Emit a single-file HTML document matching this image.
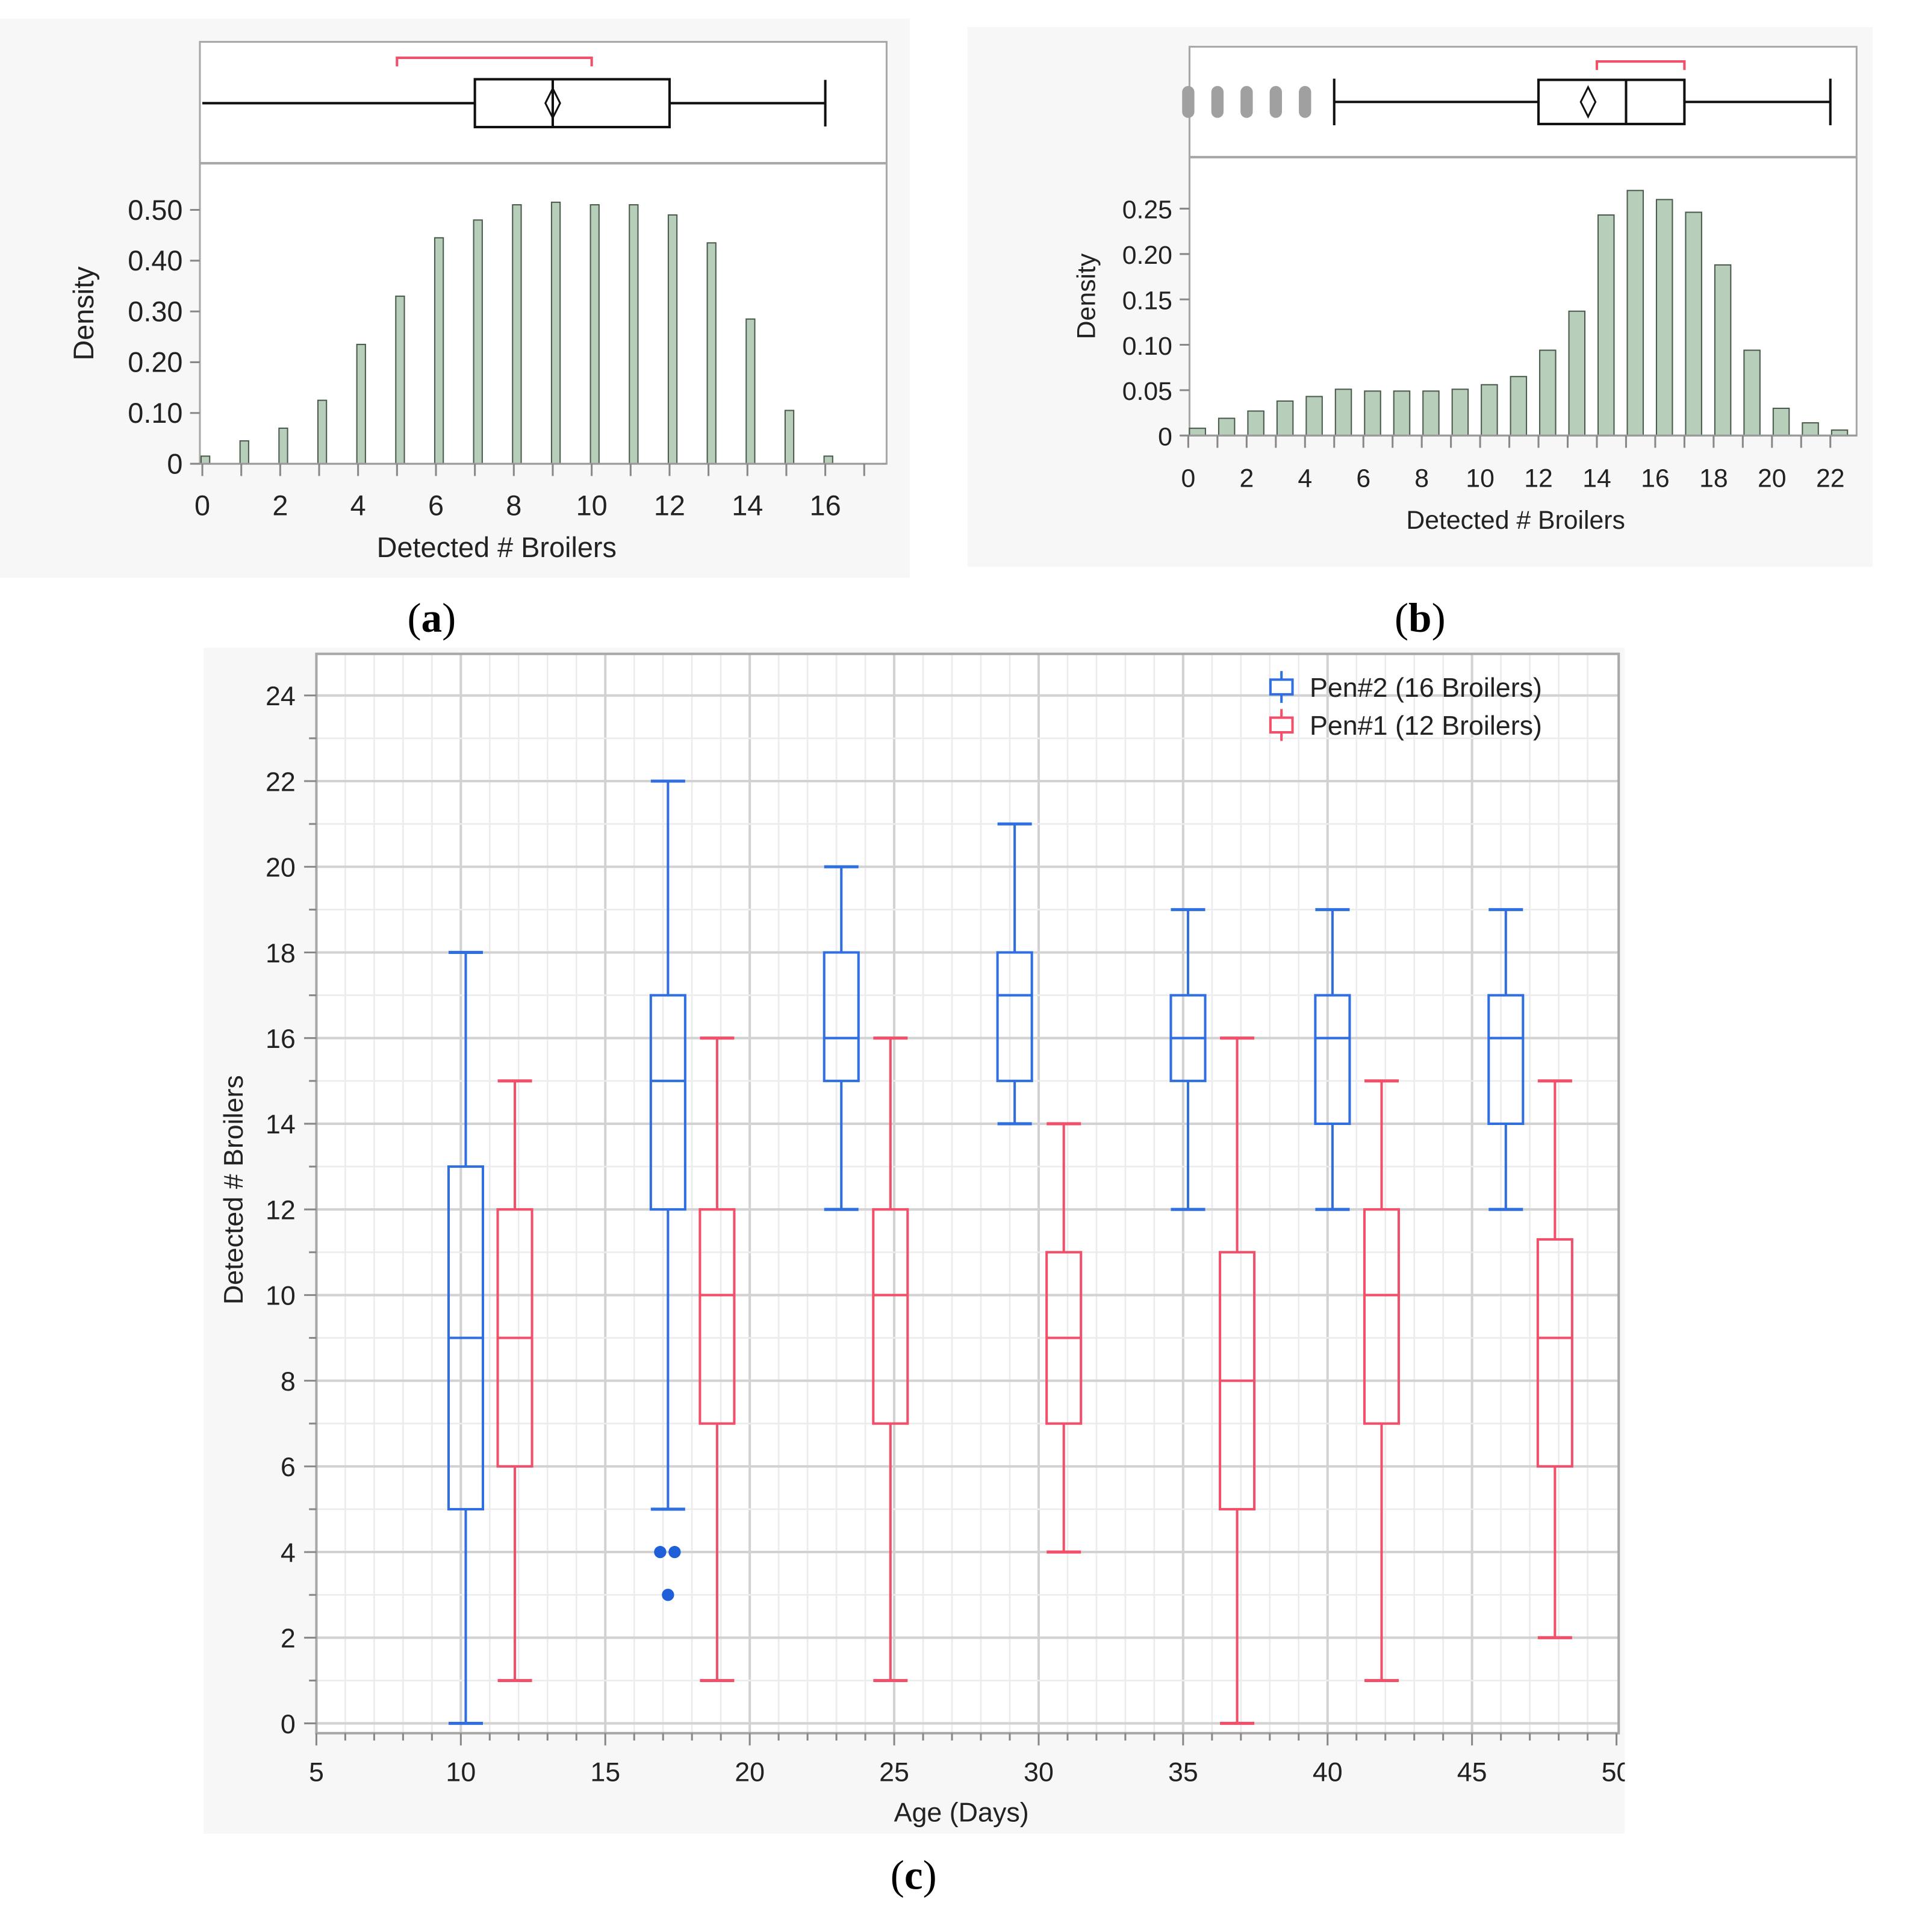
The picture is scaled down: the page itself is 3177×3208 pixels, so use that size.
<!DOCTYPE html>
<html><head><meta charset="utf-8"><style>
html,body{margin:0;padding:0;background:#fff;}
svg{display:block;font-family:"Liberation Sans",sans-serif;}
</style></head><body>
<svg id="fig" width="3177" height="3208" viewBox="0 0 1560 1575" xmlns="http://www.w3.org/2000/svg">
<rect x="0" y="0" width="1560" height="1575" fill="#fff"/>
<g id="pa"></g>
<g id="pb"></g>
<g id="pc"></g>
<text x="352" y="515" font-family="Liberation Serif,serif" font-size="34" text-anchor="middle">(<tspan font-weight="bold">a</tspan>)</text>
<text x="1158" y="515" font-family="Liberation Serif,serif" font-size="34" text-anchor="middle">(<tspan font-weight="bold">b</tspan>)</text>
<text x="745" y="1540" font-family="Liberation Serif,serif" font-size="34" text-anchor="middle">(<tspan font-weight="bold">c</tspan>)</text>
</svg>
<script>
// ---- Panel A data ----
const aBins = [0,1,2,3,4,5,6,7,8,9,10,11,12,13,14,15,16];
const aDensity = [0.015,0.045,0.07,0.125,0.235,0.33,0.445,0.48,0.51,0.515,0.51,0.51,0.49,0.435,0.285,0.105,0.015];
const aYTicks = [0,0.10,0.20,0.30,0.40,0.50];
const aYTickLabels = ["0","0.10","0.20","0.30","0.40","0.50"];
const aXTicks = [0,2,4,6,8,10,12,14,16];
const aBox = [0,7,9,12,16]; // min q1 median q3 max
const aMean = 9;
const aShortest = [5,10];
// ---- Panel B data ----
const bBins = [0,1,2,3,4,5,6,7,8,9,10,11,12,13,14,15,16,17,18,19,20,21,22];
const bDensity = [0.008,0.019,0.027,0.038,0.043,0.051,0.049,0.049,0.049,0.051,0.056,0.065,0.094,0.137,0.243,0.27,0.26,0.246,0.188,0.094,0.03,0.014,0.006];
const bYTicks = [0,0.05,0.10,0.15,0.20,0.25];
const bYTickLabels = ["0","0.05","0.10","0.15","0.20","0.25"];
const bXTicks = [0,2,4,6,8,10,12,14,16,18,20,22];
const bBox = [5,12,15,17,22];
const bMean = 13.7;
const bOutliers = [0,1,2,3,4];
const bShortest = [14,17];
// ---- Panel C data ----
const cBlueAge = [10.17,17.17,23.17,29.17,35.17,40.17,46.17];
const cBlueMin = [0,5,12,14,12,12,12];
const cBlueQ1 = [5,12,15,15,15,14,14];
const cBlueMed = [9,15,16,17,16,16,16];
const cBlueQ3 = [13,17,18,18,17,17,17];
const cBlueMax = [18,22,20,21,19,19,19];
const cRedAge = [11.87,18.87,24.87,30.87,36.87,41.87,47.87];
const cRedMin = [1,1,1,4,0,1,2];
const cRedQ1 = [6,7,7,7,5,7,6];
const cRedMed = [9,10,10,9,8,10,9];
const cRedQ3 = [12,12,12,11,11,12,11.3];
const cRedMax = [15,16,16,14,16,15,15];
const cOutAge = [16.9,17.4,17.17];
const cOutVal = [4,4,3];
const cXTicks = [5,10,15,20,25,30,35,40,45,50];
const cYTicks = [0,2,4,6,8,10,12,14,16,18,20,22,24];

const NS="http://www.w3.org/2000/svg";
function mk(parent,tag,attrs,name,text){
  const e=document.createElementNS(NS,tag);
  for(const k in attrs) e.setAttribute(k,attrs[k]);
  
  
  if(text!==undefined) e.textContent=text;
  parent.appendChild(e); return e;
}
const fig=document.getElementById('fig');

function histPanel(g,o){
  mk(g,'rect',{x:o.bg[0],y:o.bg[1],width:o.bg[2],height:o.bg[3],fill:'#f7f7f7'},'panel-background');
  mk(g,'rect',{x:o.L,y:o.T,width:o.R-o.L,height:o.B-o.T,fill:'#fff',stroke:'#a8a8a8','stroke-width':1.5},'plot-frame');
  mk(g,'line',{x1:o.L,x2:o.R,y1:o.mid,y2:o.mid,stroke:'#a8a8a8','stroke-width':2},'panel-divider');
  const X=v=>o.L+o.x0+v*o.ux, Y=v=>o.B-v*o.uy;
  o.bins.forEach((b,i)=>{
    mk(g,'rect',{x:X(b)+o.barOff,y:Y(o.dens[i]),width:o.barW,height:o.B-Y(o.dens[i]),fill:'#b7cfba',stroke:'#4a5a4c','stroke-width':1},'histogram-bar');
  });
  o.yt.forEach((v,i)=>{
    mk(g,'line',{x1:o.L-8,x2:o.L,y1:Y(v),y2:Y(v),stroke:'#888','stroke-width':1.5},'y-tick');
    mk(g,'text',{x:o.L-14,y:Y(v)+8,'font-size':o.fs,'text-anchor':'end',fill:'#222'},'y-tick-label',o.ytl[i]);
  });
  mk(g,'line',{x1:o.L,x2:o.R,y1:o.B,y2:o.B,stroke:'#999','stroke-width':1.5},'x-axis-line');
  for(let v=0;v<=o.xmax;v++){
    mk(g,'line',{x1:X(v),x2:X(v),y1:o.B,y2:o.B+10,stroke:'#888','stroke-width':1.5},'x-tick');
  }
  o.xt.forEach(v=>{
    mk(g,'text',{x:X(v),y:o.B+42,'font-size':o.fs,'text-anchor':'middle',fill:'#222'},'x-tick-label',String(v));
  });
  mk(g,'text',{x:(o.L+o.R)/2+o.xtOff,y:o.B+76,'font-size':o.fs,'text-anchor':'middle',fill:'#222'},'x-axis-title','Detected # Broilers');
  const yc=(o.mid+o.B)/2;
  mk(g,'text',{x:o.ytX,y:yc,'font-size':o.fs,'text-anchor':'middle',fill:'#222',transform:`rotate(-90 ${o.ytX} ${yc})`},'y-axis-title','Density');
  const cy=o.boxY, h=o.boxH, bx=o.box;
  mk(g,'line',{x1:X(bx[0]),x2:X(bx[1]),y1:cy,y2:cy,stroke:'#111','stroke-width':2},'whisker-low');
  mk(g,'line',{x1:X(bx[3]),x2:X(bx[4]),y1:cy,y2:cy,stroke:'#111','stroke-width':2},'whisker-high');
  if(o.capLow) mk(g,'line',{x1:X(bx[0]),x2:X(bx[0]),y1:cy-19,y2:cy+19,stroke:'#111','stroke-width':2},'whisker-cap');
  mk(g,'line',{x1:X(bx[4]),x2:X(bx[4]),y1:cy-19,y2:cy+19,stroke:'#111','stroke-width':2},'whisker-cap');
  mk(g,'rect',{x:X(bx[1]),y:cy-h/2,width:X(bx[3])-X(bx[1]),height:h,fill:'#fff',stroke:'#111','stroke-width':2},'box');
  mk(g,'line',{x1:X(bx[2]),x2:X(bx[2]),y1:cy-h/2,y2:cy+h/2,stroke:'#111','stroke-width':2},'median-line');
  const mx=X(o.mean);
  mk(g,'path',{d:`M${mx} ${cy-12} L${mx+6} ${cy} L${mx} ${cy+12} L${mx-6} ${cy} Z`,fill:'none',stroke:'#111','stroke-width':1.5},'mean-diamond');
  const s0=X(o.sh[0]),s1=X(o.sh[1]);
  mk(g,'path',{d:`M${s0} ${o.shY+7} L${s0} ${o.shY} L${s1} ${o.shY} L${s1} ${o.shY+7}`,fill:'none',stroke:'#f0506a','stroke-width':2},'shortest-half-bracket');
  if(o.outl) o.outl.forEach(v=>{
    mk(g,'rect',{x:X(v)-5,y:cy-13,width:10,height:26,rx:5,fill:'#a0a0a0'},'outlier-point');
  });
}

histPanel(document.getElementById('pa'),{
  bg:[0,15,742,456],L:163,R:723,T:34,mid:133,B:378,x0:2,ux:31.75,uy:414,
  bins:aBins,dens:aDensity,barW:7,barOff:-1,yt:aYTicks,ytl:aYTickLabels,xt:aXTicks,xmax:17,
  fs:23,xtOff:-38,ytX:76,box:aBox,boxY:84,boxH:39,mean:aMean,sh:aShortest,shY:47,capLow:false
});
histPanel(document.getElementById('pb'),{
  bg:[789,22,738,440],L:970,R:1514,T:38,mid:128,B:355,x0:-1,ux:23.8,uy:740,
  bins:bBins,dens:bDensity,barW:13,barOff:1,yt:bYTicks,ytl:bYTickLabels,xt:bXTicks,xmax:22,
  fs:21,xtOff:-6,ytX:893,box:bBox,boxY:83,boxH:36,mean:bMean,sh:bShortest,shY:50,capLow:true,outl:bOutliers
});

(function(){
  const g=document.getElementById('pc');
  const L=258,R=1320,T=533,B=1413;
  const X=v=>L+(v-5)*23.56, Y=v=>1405-v*34.92;
  mk(g,'rect',{x:166,y:528,width:1159,height:967,fill:'#f7f7f7'},'panel-background');
  mk(g,'rect',{x:L,y:T,width:R-L,height:B-T,fill:'#fff'},'plot-area');
  for(let d=6;d<50;d++){
    mk(g,'line',{x1:X(d),x2:X(d),y1:T,y2:B,stroke:d%5===0?'#d2d2d2':'#ececec','stroke-width':d%5===0?2:1.3},'grid-line-x');
  }
  for(let v=0;v<=25;v++){
    if(Y(v)<T) continue;
    mk(g,'line',{x1:L,x2:R,y1:Y(v),y2:Y(v),stroke:v%2===0?'#d2d2d2':'#ececec','stroke-width':v%2===0?2:1.3},'grid-line-y');
  }
  mk(g,'rect',{x:L,y:T,width:R-L,height:B-T,fill:'none',stroke:'#a8a8a8','stroke-width':2},'plot-frame');
  for(let v=0;v<=25;v++){
    if(Y(v)<T) continue;
    mk(g,'line',{x1:v%2===0?L-10:L-6,x2:L,y1:Y(v),y2:Y(v),stroke:'#888','stroke-width':1.5},'y-tick');
  }
  cYTicks.forEach(v=>{
    mk(g,'text',{x:241,y:Y(v)+8,'font-size':22,'text-anchor':'end',fill:'#222'},'y-tick-label',String(v));
  });
  for(let d=5;d<=50;d++){
    mk(g,'line',{x1:X(d),x2:X(d),y1:B,y2:B+(d%5===0?10:6),stroke:'#888','stroke-width':1.5},'x-tick');
  }
  cXTicks.forEach(v=>{
    mk(g,'text',{x:X(v),y:1452,'font-size':22,'text-anchor':'middle',fill:'#222'},'x-tick-label',String(v));
  });
  mk(g,'rect',{x:1325,y:1425,width:20,height:40,fill:'#fff'},'label-clip');
  mk(g,'text',{x:784,y:1485,'font-size':22,'text-anchor':'middle',fill:'#222'},'x-axis-title','Age (Days)');
  mk(g,'text',{x:198,y:970,'font-size':22,'text-anchor':'middle',fill:'#222',transform:'rotate(-90 198 970)'},'y-axis-title','Detected # Broilers');
  function boxes(age,mn,q1,md,q3,mx,col,nm){
    const hw=14;
    age.forEach((a,i)=>{
      const cx=X(a);
      mk(g,'line',{x1:cx,x2:cx,y1:Y(mx[i]),y2:Y(q3[i]),stroke:col,'stroke-width':2},nm+'-whisker-high');
      mk(g,'line',{x1:cx,x2:cx,y1:Y(q1[i]),y2:Y(mn[i]),stroke:col,'stroke-width':2},nm+'-whisker-low');
      mk(g,'line',{x1:cx-hw,x2:cx+hw,y1:Y(mx[i]),y2:Y(mx[i]),stroke:col,'stroke-width':2.5},nm+'-cap-high');
      mk(g,'line',{x1:cx-hw,x2:cx+hw,y1:Y(mn[i]),y2:Y(mn[i]),stroke:col,'stroke-width':2.5},nm+'-cap-low');
      mk(g,'rect',{x:cx-hw,y:Y(q3[i]),width:2*hw,height:Y(q1[i])-Y(q3[i]),fill:'none',stroke:col,'stroke-width':2},nm+'-box');
      mk(g,'line',{x1:cx-hw,x2:cx+hw,y1:Y(md[i]),y2:Y(md[i]),stroke:col,'stroke-width':2},nm+'-median');
    });
  }
  boxes(cBlueAge,cBlueMin,cBlueQ1,cBlueMed,cBlueQ3,cBlueMax,'#2f6fe0','pen2');
  boxes(cRedAge,cRedMin,cRedQ1,cRedMed,cRedQ3,cRedMax,'#f2506a','pen1');
  cOutAge.forEach((a,i)=>{
    mk(g,'circle',{cx:X(a),cy:Y(cOutVal[i]),r:5,fill:'#1f5fd8'},'pen2-outlier');
  });
  const lg=mk(g,'g',{},'legend');
  [['#2f6fe0','Pen#2 (16 Broilers)',560],['#f2506a','Pen#1 (12 Broilers)',591]].forEach(([c,t,y])=>{
    mk(lg,'line',{x1:1045,x2:1045,y1:y-13,y2:y+13,stroke:c,'stroke-width':2},'legend-symbol-whisker');
    mk(lg,'rect',{x:1036,y:y-6,width:18,height:12,fill:'#fff',stroke:c,'stroke-width':2},'legend-symbol-box');
    mk(lg,'text',{x:1068,y:y+8,'font-size':22,fill:'#222'},'legend-entry',t);
  });
})();
</script>
</body></html>
